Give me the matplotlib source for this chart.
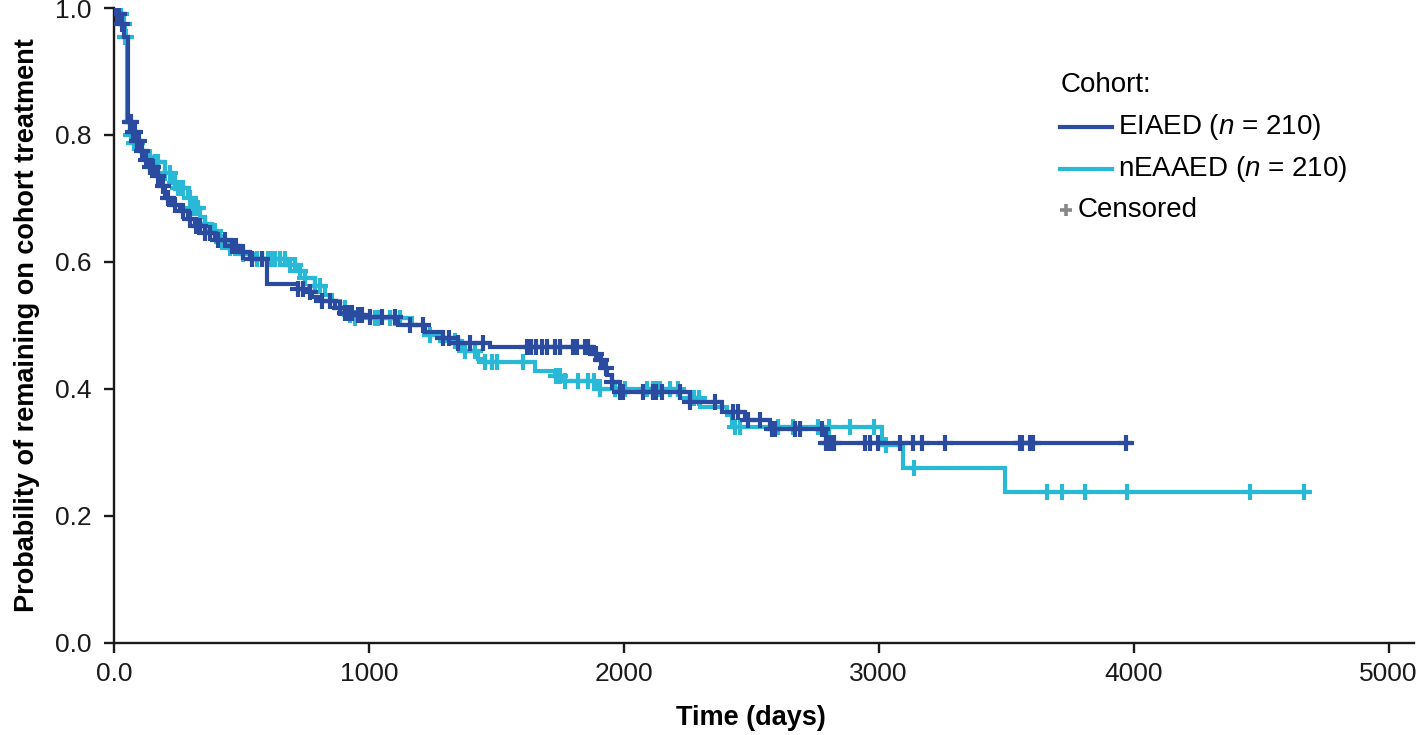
import numpy as np
import matplotlib
matplotlib.use("Agg")
import matplotlib.pyplot as plt
from matplotlib.lines import Line2D

plt.rcParams['font.family'] = ['Liberation Sans', 'DejaVu Sans']
plt.rcParams['mathtext.fontset'] = 'custom'
plt.rcParams['mathtext.it'] = 'Liberation Sans:italic'
plt.rcParams['mathtext.rm'] = 'Liberation Sans'

# ---- data ----
eiaed_times = [0, 8, 24, 39, 55, 70, 86, 102, 122, 141, 161, 180, 200, 227, 259, 290, 318,
               357, 396, 463, 494, 533, 600, 722, 749, 776, 816, 867, 906, 945, 984, 1114,
               1220, 1290, 1349, 1475, 1875, 1894, 1914, 1933, 1953, 1984, 2259, 2384,
               2475, 2573, 2792]
eiaed_surv = [1.0, 0.99, 0.975, 0.955, 0.82, 0.805, 0.79, 0.775, 0.76, 0.75, 0.735, 0.72,
              0.70, 0.69, 0.68, 0.668, 0.657, 0.645, 0.635, 0.625, 0.615, 0.605, 0.565,
              0.558, 0.552, 0.545, 0.538, 0.527, 0.52, 0.516, 0.513, 0.50, 0.49, 0.48,
              0.472, 0.466, 0.455, 0.445, 0.433, 0.421, 0.41, 0.395, 0.38, 0.364, 0.351,
              0.337, 0.315]
eiaed_end = 3985
eiaed_censor = [12, 20, 31, 63, 67, 75, 82, 90, 98, 110, 125, 141, 153, 173, 192, 212, 239,
                271, 298, 322, 337, 357, 376, 408, 435, 463, 478, 506, 541, 580, 722, 741,
                769, 816, 847, 886, 906, 918, 933, 957, 973, 1004, 1051, 1102, 1161, 1212,
                1290, 1314, 1349, 1396, 1447, 1620, 1635, 1655, 1678, 1698, 1729, 1749,
                1800, 1816, 1847, 1859, 1890, 1910, 1929, 1953, 1984, 1996, 2075, 2114,
                2125, 2149, 2220, 2259, 2357, 2427, 2447, 2486, 2533, 2580, 2592, 2671,
                2690, 2776, 2792, 2800, 2812, 2824, 2945, 2965, 2996, 3082, 3133, 3169,
                3259, 3553, 3561, 3592, 3604, 3969]

neaaed_times = [0, 16, 31, 43, 51, 63, 78, 102, 129, 149, 200, 227, 251, 290, 310, 337, 357,
                384, 416, 447, 494, 553, 675, 714, 749, 788, 827, 855, 886, 914, 933, 1169,
                1220, 1278, 1365, 1427, 1455, 1651, 1729, 1757, 1898, 2220, 2298, 2404,
                2424, 3012, 3094, 3494]
neaaed_surv = [1.0, 0.99, 0.975, 0.955, 0.82, 0.80, 0.788, 0.775, 0.765, 0.757, 0.74, 0.725,
               0.717, 0.70, 0.685, 0.67, 0.66, 0.648, 0.632, 0.622, 0.612, 0.604, 0.595,
               0.585, 0.575, 0.562, 0.548, 0.538, 0.528, 0.517, 0.512, 0.50, 0.485, 0.475,
               0.46, 0.447, 0.443, 0.428, 0.42, 0.412, 0.40, 0.385, 0.372, 0.358, 0.34,
               0.312, 0.275, 0.237]
neaaed_end = 4690
neaaed_censor = [4, 16, 27, 39, 43, 47, 67, 78, 90, 141, 161, 173, 200, 220, 239, 251, 259,
                 271, 298, 310, 322, 329, 357, 396, 424, 455, 475, 506, 561, 580, 604, 616,
                 631, 651, 671, 690, 710, 729, 749, 788, 808, 906, 925, 945, 1024, 1035,
                 1082, 1102, 1122, 1239, 1337, 1376, 1416, 1455, 1482, 1502, 1604, 1733,
                 1749, 1769, 1820, 1859, 1882, 1906, 1965, 2004, 2090, 2114, 2129, 2141,
                 2180, 2212, 2275, 2294, 2435, 2455, 2604, 2663, 2761, 2804, 2886, 2980,
                 3027, 3137, 3659, 3718, 3808, 3976, 4455, 4667]

x_ticks = [0, 1000, 2000, 3000, 4000, 5000]
x_ticklabels = ['0.0', '1000', '2000', '3000', '4000', '5000']
y_ticks = [0.0, 0.2, 0.4, 0.6, 0.8, 1.0]

DARK = '#2b4ba0'
CYAN = '#29b9d6'
LW = 3.0

fig = plt.figure(figsize=(14.18, 7.35), dpi=100)
ax = fig.add_axes([114 / 1418, 1 - 642.7 / 735, 1300 / 1418, 634.7 / 735])


def draw(times, surv, end, censor, color, z):
    t = np.array(times, float)
    s = np.array(surv, float)
    tt = np.append(t, end)
    ss = np.append(s, s[-1])
    ax.step(tt, ss, where='post', color=color, lw=LW, zorder=z, solid_joinstyle='miter')
    c = np.array(censor, float)
    idx = np.searchsorted(t, c, side='right') - 1
    ax.plot(c, s[idx], ls='none', marker='+', ms=12, mew=3.0, color=color, zorder=z)


draw(neaaed_times, neaaed_surv, neaaed_end, neaaed_censor, CYAN, 2)
draw(eiaed_times, eiaed_surv, eiaed_end, eiaed_censor, DARK, 3)

ax.set_xlim(0, 5100)
ax.set_ylim(0, 1.0)
ax.set_xticks(x_ticks)
ax.set_xticklabels(x_ticklabels)
ax.set_yticks(y_ticks)
ax.set_yticklabels([f'{v:.1f}' for v in y_ticks])
for sp in ['top', 'right']:
    ax.spines[sp].set_visible(False)
for sp in ['left', 'bottom']:
    ax.spines[sp].set_linewidth(1.7)
    ax.spines[sp].set_color('#1a1a1a')
ax.spines['left'].set_bounds(0, 1.0)
ax.tick_params(direction='out', length=7, width=1.7, labelsize=19, color='#1a1a1a')
ax.tick_params(axis='y', pad=9)
ax.tick_params(axis='x', pad=7)
ax.set_xlabel('Time (days)', fontsize=19.5, fontweight='bold')
ax.xaxis.set_label_coords((751 - 114) / 1300, -(718 - 642.7) / 634.7)
ax.xaxis.label.set_va('center')
ax.set_ylabel('Probability of remaining on cohort treatment', fontsize=19.5,
              fontweight='bold', labelpad=11)
for lab in ax.get_xticklabels() + ax.get_yticklabels():
    lab.set_color('#1a1a1a')


def fx(px):
    return px / 1418


def fy(py):
    return 1 - py / 735


FS = 20
fig.text(fx(1061), fy(85), 'Cohort:', fontsize=FS, va='center', ha='left')
fig.add_artist(Line2D([fx(1060), fx(1112)], [fy(127), fy(127)], color=DARK, lw=LW))
fig.text(fx(1118), fy(127), 'EIAED ($\\mathit{n}$ = 210)', fontsize=FS, va='center', ha='left')
fig.add_artist(Line2D([fx(1060), fx(1112)], [fy(169), fy(169)], color=CYAN, lw=LW))
fig.text(fx(1118), fy(169), 'nEAAED ($\\mathit{n}$ = 210)', fontsize=FS, va='center', ha='left')
fig.add_artist(Line2D([fx(1066)], [fy(210)], ls='none', marker='+', ms=9, mew=2.6, color='#888888'))
fig.text(fx(1078), fy(210), 'Censored', fontsize=FS, va='center', ha='left')

fig.savefig('out.png', dpi=100)
